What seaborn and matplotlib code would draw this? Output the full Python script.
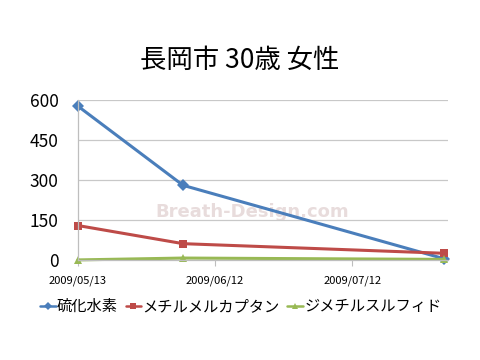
import pandas as pd
import matplotlib
matplotlib.use("Agg")
import matplotlib.pyplot as plt
import matplotlib.dates as mdates
import seaborn as sns

# values
dates = ["2009-05-13", "2009-06-05", "2009-08-01"]
h2s = [577, 280, 5]
ch3sh = [129, 61, 25]
dms = [0, 7, 2]
series_names = ["硫化水素", "メチルメルカプタン", "ジメチルスルフィド"]
tick_dates = ["2009-05-13", "2009-06-12", "2009-07-12"]
y_ticks = [0, 150, 300, 450, 600]

colors = ["#4A7EBB", "#BE4B48", "#98B954"]
markers = ["D", "s", "^"]

sns.set_style("white")
plt.rcParams["font.family"] = ["Noto Sans CJK JP", "DejaVu Sans"]
plt.rcParams["text.color"] = "black"
plt.rcParams["xtick.color"] = "black"
plt.rcParams["ytick.color"] = "black"

rows = []
for name, vals in zip(series_names, [h2s, ch3sh, dms]):
    for d, v in zip(dates, vals):
        rows.append({"date": pd.Timestamp(d), "value": v, "series": name})
df = pd.DataFrame(rows)

fig = plt.figure(figsize=(4.8, 3.6), dpi=100)
ax = fig.add_axes([0.1625, 0.278, 0.771, 0.444])

sns.lineplot(
    data=df, x="date", y="value", hue="series", style="series",
    hue_order=series_names, style_order=series_names,
    palette=colors, markers=markers, dashes=False,
    linewidth=2.2, markersize=6, markeredgewidth=0, ax=ax,
)
for ln in ax.lines:
    ln.set_clip_on(False)

ax.set_xlim(pd.Timestamp("2009-05-13"), pd.Timestamp("2009-08-02"))
ax.set_ylim(0, 600)
ax.set_yticks(y_ticks)
ax.set_xticks([pd.Timestamp(t) for t in tick_dates])
ax.xaxis.set_major_formatter(mdates.DateFormatter("%Y/%m/%d"))
ax.set_xlabel("")
ax.set_ylabel("")

ax.grid(axis="y", color="#C8C8C8", linewidth=0.9)
ax.set_axisbelow(True)
for s in ["top", "right"]:
    ax.spines[s].set_visible(False)
for s in ["left", "bottom"]:
    ax.spines[s].set_color("#BEBEBE")
    ax.spines[s].set_linewidth(0.9)

ax.tick_params(axis="y", length=0, pad=14, labelsize=12.5)
ax.tick_params(axis="x", length=4, direction="out", color="#BEBEBE",
               pad=7, labelsize=8)
ax.xaxis.set_tick_params(bottom=True)

ax.text(0.47, 0.3, "Breath-Design.com", transform=ax.transAxes,
        ha="center", va="center", fontsize=13, fontweight="bold",
        color="#E8DCDC", family="DejaVu Sans", zorder=0)

fig.suptitle("長岡市 30歳 女性", fontsize=19, y=0.87)

leg = ax.legend(loc="upper center", bbox_to_anchor=(0.44, -0.2), ncol=3,
                frameon=False, fontsize=11, handlelength=1.0,
                handletextpad=0.1, columnspacing=0.5, borderaxespad=0)
for h in leg.legend_handles:
    h.set_markersize(4.5)
    h.set_linewidth(1.8)

fig.savefig("out.png", dpi=100, facecolor="white")
